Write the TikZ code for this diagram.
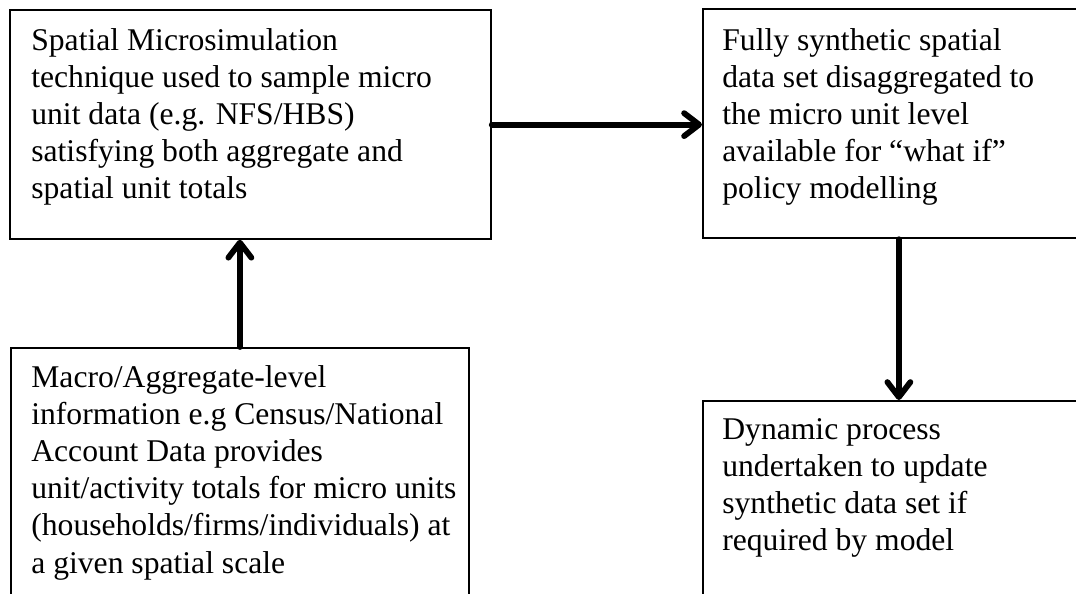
\documentclass[tikz,border=0pt]{standalone}
\usepackage{fontspec}
\setmainfont{Liberation Serif}
\usetikzlibrary{arrows.meta, positioning, calc}
\tikzset{
  box/.style  = {draw=black, line width=1pt, inner sep=0pt, anchor=north west},
  txt/.style  = {align=left, inner sep=0pt, anchor=north west,
                 font=\fontsize{18}{21.1}\selectfont},
  flow/.style = {-{Straight Barb[length=0.3cm, width=0.46cm, round]},
                 line width=3.3pt, line cap=round},
}
\begin{document}
\begin{tikzpicture}[x=0.02cm, y=-0.02cm]
  \useasboundingbox (0,0) rectangle (1076,594);
  \clip (0,0) rectangle (1076,594);
  % the four boxes (right and bottom ones run off the page)
  \node[box, minimum width=481*0.02cm, minimum height=228.5*0.02cm] (micro) at (9,9.5) {};
  \node[box, minimum width=392*0.02cm, minimum height=229*0.02cm] (synth) at (702,8.5) {};
  \node[box, minimum width=458*0.02cm, minimum height=280*0.02cm] (macro) at (10,347) {};
  \node[box, minimum width=392*0.02cm, minimum height=230*0.02cm] (dynamic) at (702,400) {};
  % texts
  \node[txt] (microtxt) at (31,28.4) {Spatial Microsimulation\\technique used to sample micro\\
    unit data (e.g. NFS/HBS)\\satisfying both aggregate and\\spatial unit totals};
  \node[txt] (synthtxt) at (722,28.4) {Fully synthetic spatial\\data set disaggregated to\\
    the micro unit level\\available for “what if”\\policy modelling};
  \node[txt] (macrotxt) at (31,365.4) {Macro/Aggregate-level\\information e.g Census/National\\
    Account Data provides\\unit/activity totals for micro units\\
    (households/firms/individuals) at\\a given spatial scale};
  \node[txt] (dynamictxt) at (722,418.4) {Dynamic process\\undertaken to update\\
    synthetic data set if\\required by model};
  % flow
  \draw[flow] (micro.east) -- (micro.east -| synth.west);
  \draw[flow] (macro.north) -- (macro.north |- micro.south);
  \draw[flow] (synth.south) -- (dynamic.north);
\end{tikzpicture}
\end{document}
